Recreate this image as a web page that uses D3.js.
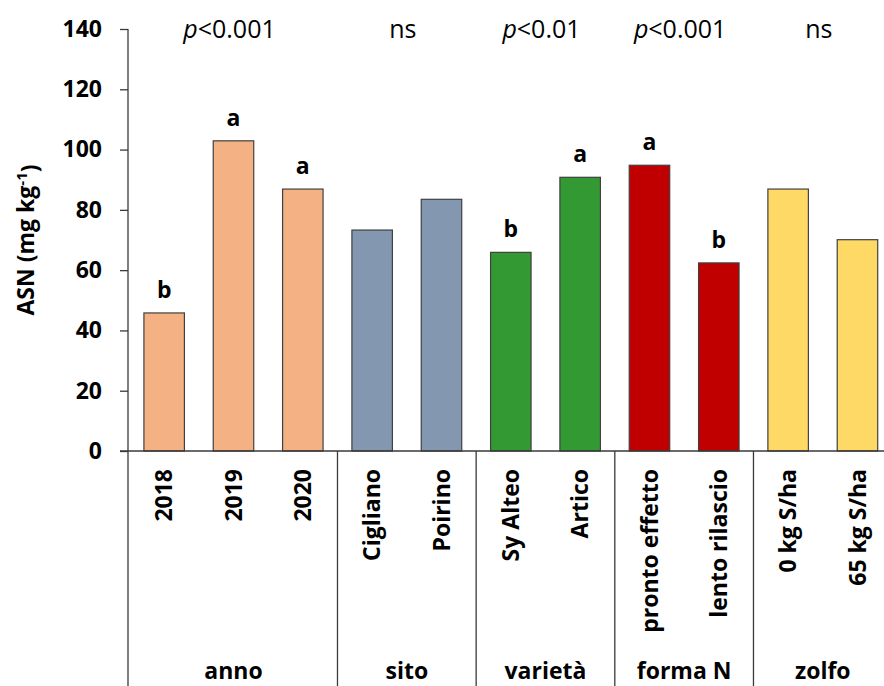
<!DOCTYPE html>
<html>
<head>
<meta charset="utf-8">
<script src="https://cdn.jsdelivr.net/npm/d3@7"></script>
<style>
  body { margin: 0; background: #fff; }
  text { font-family: "Open Sans", sans-serif; fill: #000; }
</style>
</head>
<body>
<script>
// dati
const categories = ["2018", "2019", "2020", "Cigliano", "Poirino", "Sy Alteo", "Artico",
  "pronto effetto", "lento rilascio", "0 kg S/ha", "65 kg S/ha"];
const values = [45.8, 102.9, 86.9, 73.3, 83.5, 65.9, 90.8, 94.8, 62.4, 86.9, 70.1];
const letters = ["b", "a", "a", "", "", "b", "a", "a", "b", "", ""];
const groupOf = [0, 0, 0, 1, 1, 2, 2, 3, 3, 4, 4];
const groups = ["anno", "sito", "varietà", "forma N", "zolfo"];
const pvalues = [["p", "<0.001"], ["", "ns"], ["p", "<0.01"], ["p", "<0.001"], ["", "ns"]];
const groupColors = ["#F4B183", "#8497B0", "#339933", "#C00000", "#FFD966"];
const yTicks = [0, 20, 40, 60, 80, 100, 120, 140];

const width = 884;
const height = 686;
const axisX = 128;
const y0 = 451;
const yTop = 29;

const svg = d3.select("body").append("svg")
  .attr("width", width).attr("height", height);

const x = d3.scaleBand()
  .domain(categories)
  .range([129.5, 129.5 + 11 * 69.33])
  .paddingInner(0.416)
  .paddingOuter(0.208);

const y = d3.scaleLinear().domain([0, 140]).range([y0, yTop]);

const axisColor = "#3a3a3a";

// asse Y
const yAxis = svg.append("g")
  .attr("transform", `translate(${axisX},0)`)
  .call(d3.axisLeft(y).tickValues(yTicks).tickSize(8).tickPadding(18).tickSizeOuter(0));
yAxis.select(".domain").remove();
yAxis.selectAll("line").attr("stroke", axisColor).attr("stroke-width", 1.3);
yAxis.selectAll("text")
  .style("font-family", "Open Sans, sans-serif")
  .style("font-weight", "bold")
  .style("font-size", "23px")
  .attr("fill", "#000");

// linea verticale dell'asse (prosegue sotto fino al bordo)
svg.append("line")
  .attr("x1", axisX).attr("x2", axisX)
  .attr("y1", yTop).attr("y2", height)
  .attr("stroke", axisColor).attr("stroke-width", 1.3);

// barre
svg.selectAll("rect.bar")
  .data(categories)
  .enter()
  .append("rect")
  .attr("class", "bar")
  .attr("x", (d) => x(d))
  .attr("width", x.bandwidth())
  .attr("y", (d, i) => y(values[i]))
  .attr("height", (d, i) => y0 - y(values[i]))
  .attr("fill", (d, i) => groupColors[groupOf[i]])
  .attr("stroke", "#404040")
  .attr("stroke-width", 1.2);

// asse X
svg.append("line")
  .attr("x1", axisX - 8).attr("x2", width)
  .attr("y1", y0).attr("y2", y0)
  .attr("stroke", axisColor).attr("stroke-width", 1.3);

// lettere di significatività
svg.selectAll("text.letter")
  .data(categories)
  .enter()
  .append("text")
  .attr("class", "letter")
  .attr("x", (d) => x(d) + x.bandwidth() / 2)
  .attr("y", (d, i) => y(values[i]) - 15)
  .attr("text-anchor", "middle")
  .style("font-weight", "bold")
  .style("font-size", "23px")
  .text((d, i) => letters[i]);

// etichette categorie ruotate
svg.selectAll("text.cat")
  .data(categories)
  .enter()
  .append("text")
  .attr("class", "cat")
  .attr("transform", (d) => `translate(${x(d) + x.bandwidth() / 2},469) rotate(-90)`)
  .attr("dy", "0.36em")
  .attr("text-anchor", "end")
  .style("font-weight", "bold")
  .style("font-size", "23px")
  .text((d) => d);

// separatori e nomi dei gruppi
const step = x.step();
const start = x.range()[0];
const groupStart = groups.map((g, gi) => groupOf.indexOf(gi));
const groupEnd = groups.map((g, gi) => groupOf.lastIndexOf(gi) + 1);

svg.selectAll("line.sep")
  .data(groups)
  .enter()
  .append("line")
  .attr("class", "sep")
  .attr("x1", (d, i) => start + groupEnd[i] * step)
  .attr("x2", (d, i) => start + groupEnd[i] * step)
  .attr("y1", y0).attr("y2", height)
  .attr("stroke", axisColor).attr("stroke-width", 1.3);

svg.selectAll("text.group")
  .data(groups)
  .enter()
  .append("text")
  .attr("class", "group")
  .attr("x", (d, i) => start + (groupStart[i] + groupEnd[i]) / 2 * step)
  .attr("y", 679)
  .attr("text-anchor", "middle")
  .style("font-weight", "bold")
  .style("font-size", "23px")
  .text((d) => d);

// valori p in alto
const pText = svg.selectAll("text.pval")
  .data(groups)
  .enter()
  .append("text")
  .attr("class", "pval")
  .attr("x", (d, i) => start + (groupStart[i] + groupEnd[i]) / 2 * step - 4)
  .attr("y", 38)
  .attr("text-anchor", "middle")
  .style("font-size", "25px");
pText.append("tspan")
  .style("font-style", "italic")
  .text((d, i) => pvalues[i][0]);
pText.append("tspan")
  .text((d, i) => pvalues[i][1]);

// titolo asse Y
const yTitle = svg.append("text")
  .attr("transform", `translate(34,${(y0 + yTop) / 2}) rotate(-90)`)
  .attr("text-anchor", "middle")
  .style("font-weight", "bold")
  .style("font-size", "23px");
yTitle.append("tspan").text("ASN (mg kg");
yTitle.append("tspan").attr("dy", "-0.45em").style("font-size", "15px").text("-1");
yTitle.append("tspan").attr("dy", "0.45em").text(")");
</script>
</body>
</html>
